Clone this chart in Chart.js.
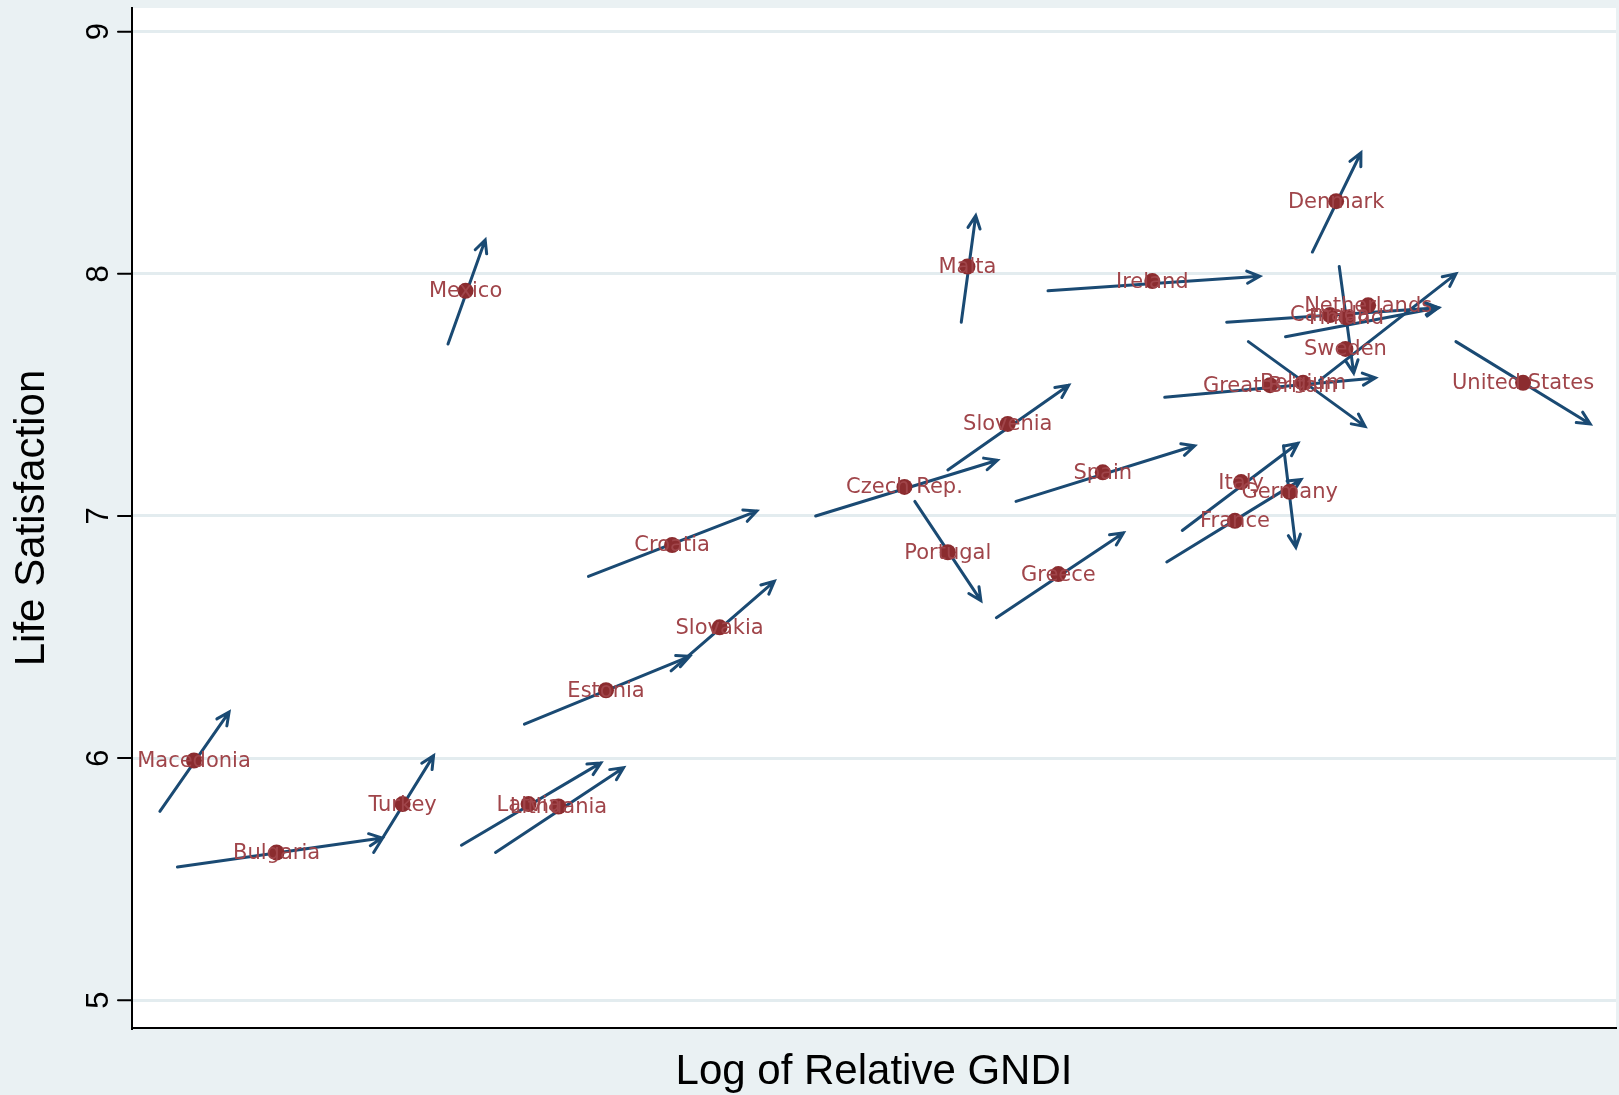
<!DOCTYPE html>
<html>
<head>
<meta charset="utf-8">
<script src="https://cdn.jsdelivr.net/npm/chart.js@4.4.1/dist/chart.umd.min.js"></script>
<style>
  html, body { margin: 0; padding: 0; background: #eaf1f3; }
  #wrap { width: 1619px; height: 1095px; }
</style>
</head>
<body>
<div id="wrap"><canvas id="c" width="1619" height="1095"></canvas></div>
<script>
// country, point, arrow start and arrow end (x is an unlabelled log GNDI unit)
const countries = ["Macedonia", "Bulgaria", "Turkey", "Latvia", "Lithuania", "Estonia", "Slovakia", "Croatia", "Mexico", "Malta",
  "Ireland", "Slovenia", "Czech Rep.", "Portugal", "Greece", "Spain", "Italy", "Germany", "France", "Great Britain",
  "Belgium", "Sweden", "Netherlands", "Canada", "Finland", "Denmark", "United States"];
const gndi = [0.60, 1.40, 2.62, 3.84, 4.13, 4.59, 5.69, 5.23, 3.23, 8.09, 9.88, 8.48, 7.48, 7.90, 8.97, 9.40, 10.74, 11.21, 10.68, 11.02, 11.34, 11.75, 11.97, 11.60, 11.76, 11.66, 13.47];
const satisfaction = [5.99, 5.61, 5.81, 5.81, 5.80, 6.28, 6.54, 6.88, 7.93, 8.03, 7.97, 7.38, 7.12, 6.85, 6.76, 7.18, 7.14, 7.10, 6.98, 7.54, 7.55, 7.69, 7.87, 7.83, 7.82, 8.30, 7.55];
const startX = [0.27, 0.44, 2.34, 3.19, 3.52, 3.80, 5.22, 4.42, 3.06, 8.03, 8.87, 7.90, 6.62, 7.58, 8.37, 8.56, 10.17, 11.15, 10.02, 10.00, 10.81, 11.50, 11.17, 10.60, 11.69, 11.43, 12.82];
const startY = [5.78, 5.55, 5.61, 5.64, 5.61, 6.14, 6.36, 6.75, 7.71, 7.80, 7.93, 7.19, 7.00, 7.06, 6.58, 7.06, 6.94, 7.29, 6.81, 7.49, 7.72, 7.56, 7.74, 7.80, 8.03, 8.09, 7.72];
const endX = [0.94, 2.42, 2.92, 4.54, 4.76, 5.40, 6.22, 6.05, 3.42, 8.17, 10.92, 9.07, 8.38, 8.22, 9.60, 10.29, 11.29, 11.27, 11.32, 12.04, 11.94, 12.82, 12.65, 12.65, 11.83, 11.90, 14.12];
const endY = [6.19, 5.67, 6.01, 5.98, 5.96, 6.42, 6.73, 7.02, 8.14, 8.24, 7.99, 7.54, 7.23, 6.65, 6.93, 7.29, 7.30, 6.87, 7.15, 7.57, 7.37, 8.00, 7.86, 7.86, 7.59, 8.50, 7.38];
const yTicks = [5, 6, 7, 8, 9];

const points = gndi.map((x, i) => ({ x, y: satisfaction[i] }));

const drawArrow = (ctx, ax, ay, bx, by) => {
  const ang = Math.atan2(by - ay, bx - ax);
  const head = 14;
  ctx.beginPath();
  ctx.moveTo(ax, ay);
  ctx.lineTo(bx, by);
  ctx.moveTo(bx - head * Math.cos(ang - 0.45), by - head * Math.sin(ang - 0.45));
  ctx.lineTo(bx, by);
  ctx.lineTo(bx - head * Math.cos(ang + 0.45), by - head * Math.sin(ang + 0.45));
  ctx.stroke();
};

const stataPlugin = {
  id: "stata",
  beforeDraw(chart) {
    const { ctx, chartArea: a } = chart;
    ctx.save();
    ctx.fillStyle = "#eaf1f3";
    ctx.fillRect(0, 0, chart.width, chart.height);
    ctx.fillStyle = "#ffffff";
    ctx.fillRect(a.left, a.top, a.right - a.left, a.bottom - a.top);
    ctx.restore();
  },
  afterDatasetsDraw(chart) {
    const { ctx, chartArea: a } = chart;
    const xs = chart.scales.x, ys = chart.scales.y;
    ctx.save();
    // arrows
    ctx.strokeStyle = "#1a4a73";
    ctx.lineWidth = 3;
    ctx.lineCap = "round";
    countries.forEach((_, i) => {
      drawArrow(ctx, xs.getPixelForValue(startX[i]), ys.getPixelForValue(startY[i]),
        xs.getPixelForValue(endX[i]), ys.getPixelForValue(endY[i]));
    });
    // markers
    ctx.fillStyle = "#8b2c2f";
    countries.forEach((_, i) => {
      ctx.beginPath();
      ctx.arc(xs.getPixelForValue(gndi[i]), ys.getPixelForValue(satisfaction[i]), 8, 0, Math.PI * 2);
      ctx.fill();
    });
    // labels
    ctx.font = "21px 'DejaVu Sans', sans-serif";
    ctx.fillStyle = "#a0454a";
    ctx.textAlign = "center";
    ctx.textBaseline = "middle";
    countries.forEach((name, i) => {
      ctx.fillText(name, xs.getPixelForValue(gndi[i]), ys.getPixelForValue(satisfaction[i]) + 1);
    });
    // y ticks rotated
    ctx.fillStyle = "#000";
    ctx.strokeStyle = "#000";
    ctx.lineWidth = 2;
    ctx.font = "31px Arial, 'Liberation Sans', sans-serif";
    yTicks.forEach((t) => {
      const py = ys.getPixelForValue(t);
      ctx.beginPath();
      ctx.moveTo(a.left - 14, py);
      ctx.lineTo(a.left, py);
      ctx.stroke();
      ctx.save();
      ctx.translate(a.left - 33, py);
      ctx.rotate(-Math.PI / 2);
      ctx.fillText(String(t), 0, 0);
      ctx.restore();
    });
    // titles
    ctx.font = "42px Arial, 'Liberation Sans', sans-serif";
    ctx.save();
    ctx.translate(32, (a.top + a.bottom) / 2);
    ctx.rotate(-Math.PI / 2);
    ctx.fillText("Life Satisfaction", 0, 0);
    ctx.restore();
    ctx.fillText("Log of Relative GNDI", (a.left + a.right) / 2, 1072);
    ctx.restore();
  }
};

new Chart(document.getElementById("c"), {
  type: "scatter",
  data: { datasets: [{ data: points, pointRadius: 0, pointHoverRadius: 0 }] },
  options: {
    responsive: false,
    animation: false,
    devicePixelRatio: 1,
    layout: { padding: { top: 8, right: 3, left: 0, bottom: 0 } },
    plugins: { legend: { display: false }, tooltip: { enabled: false } },
    scales: {
      x: {
        type: "linear", min: 0, max: 14.37,
        grid: { display: false },
        border: { display: true, color: "#000", width: 2 },
        ticks: { display: false },
        afterFit: (s) => { s.height = 67; }
      },
      y: {
        type: "linear", min: 4.885, max: 9.098,
        afterBuildTicks: (s) => { s.ticks = yTicks.map((v) => ({ value: v })); },
        grid: { color: "#e3ecef", lineWidth: 3, drawTicks: false },
        border: { display: true, color: "#000", width: 2 },
        ticks: { display: false },
        afterFit: (s) => { s.width = 132; }
      }
    }
  },
  plugins: [stataPlugin]
});
</script>
</body>
</html>
